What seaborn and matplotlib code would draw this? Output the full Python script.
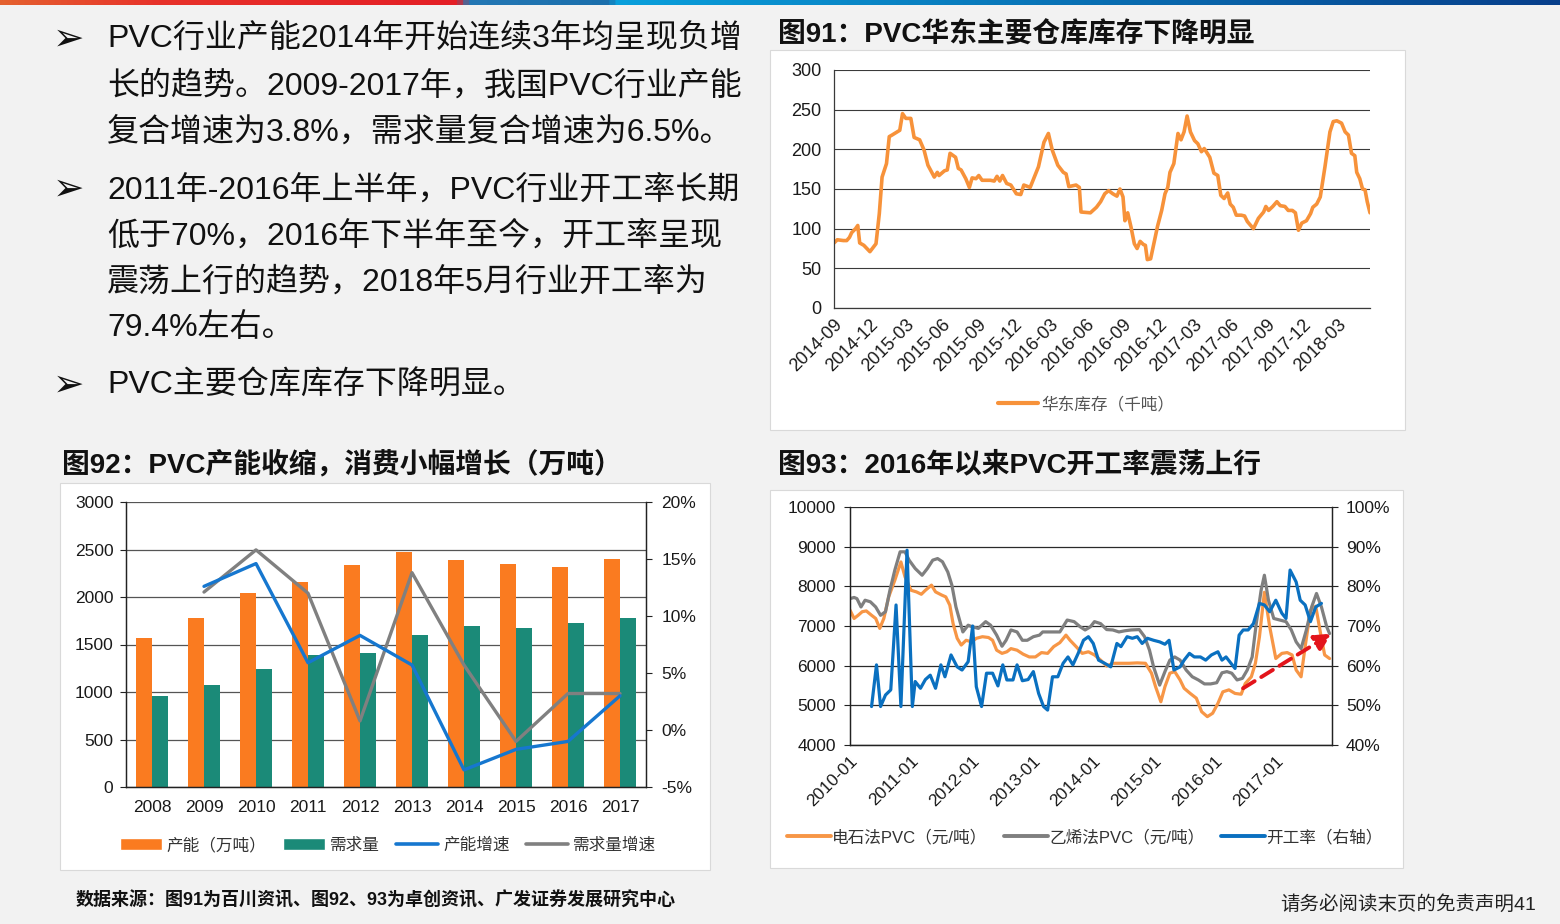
import numpy as np
import pandas as pd
import matplotlib
matplotlib.use("Agg")
import matplotlib.pyplot as plt
import seaborn as sns
from matplotlib.patches import Rectangle, Patch
from matplotlib.lines import Line2D
from matplotlib.colors import LinearSegmentedColormap

# ---------------- data ----------------
# Fig 91: East China PVC warehouse stock (kt); x = weeks since 2014-09-01
weeks91 = [0, 1.2, 3.4, 4.6, 5.6, 6.4, 7.8, 8.6, 9.3, 10.8,
           13, 15.2, 16.4, 17.4, 19, 20, 21, 23.8, 24.8, 26,
           27.8, 29, 31, 32.6, 34, 36.3, 37.4, 38, 40, 41,
           42, 44, 45, 46, 47.7, 49, 50, 51.4, 52.4, 53.6,
           56.6, 58, 59, 60, 61, 62.5, 64, 66, 67.6, 68.7,
           71, 74, 76, 77.6, 79, 81, 83, 84, 85, 87.6,
           88.8, 89.4, 92.8, 95, 96.5, 98, 99.4, 100.9, 102.4, 103.5,
           104.6, 105.3, 106.3, 107.5, 108.7, 109.7, 110.8, 112, 112.7, 113.4,
           114.6, 116, 117.1, 118.6, 119.8, 120.8, 121.6, 123, 124.5, 125.6,
           126.7, 127.8, 129, 130.5, 131.7, 133, 134, 136, 137.5, 138.9,
           140, 141.2, 142.5, 143.4, 144.5, 145.6, 147.4, 148.6, 149.6, 151.8,
           153.6, 155.5, 156.3, 157.3, 158.8, 160.3, 161.5, 163.2, 164.4, 165.9,
           167, 168.1, 169.3, 171, 172.5, 173.3, 174.7, 176, 177.7, 179.5,
           180.7, 182, 183.7, 185, 186.2, 187.3, 188.5, 189.2, 190.3, 191.3,
           192.2, 193, 194]
stock91 = [82, 86, 85, 85, 89, 95, 100, 104, 82, 79,
           71, 81, 119, 165, 182, 216, 218, 224, 245, 239,
           239, 215, 212, 199, 180, 165, 171, 167, 173, 174,
           195, 190, 176, 174, 163, 152, 164, 163, 167, 161,
           161, 160, 166, 160, 167, 157, 155, 144, 143, 155,
           152, 178, 209, 220, 199, 180, 171, 169, 153, 155,
           152, 121, 120, 127, 134, 144, 148, 144, 141, 150,
           140, 110, 120, 102, 81, 75, 84, 80, 79, 61,
           62, 85, 103, 123, 144, 152, 171, 182, 220, 212,
           222, 242, 222, 211, 207, 197, 201, 190, 170, 167,
           142, 138, 145, 131, 127, 117, 117, 116, 109, 100,
           113, 121, 128, 123, 128, 134, 129, 128, 123, 123,
           120, 98, 107, 110, 119, 127, 131, 140, 178, 222,
           235, 236, 233, 222, 218, 195, 192, 171, 163, 150,
           149, 134, 120]
start91 = "2014-09-01"
label91 = "华东库存（千吨）"

# Fig 92: capacity / demand (10kt) and growth rates (%)
years92 = [2008, 2009, 2010, 2011, 2012, 2013, 2014, 2015, 2016, 2017]
capacity92 = [1570, 1775, 2040, 2160, 2340, 2475, 2385, 2345, 2320, 2395]
demand92 = [955, 1075, 1245, 1390, 1410, 1600, 1690, 1675, 1725, 1780]
cap_growth92 = [np.nan, 12.6, 14.6, 5.9, 8.3, 5.7, -3.5, -1.7, -1.0, 3.0]
dem_growth92 = [np.nan, 12.1, 15.8, 12.0, 0.8, 13.8, 5.7, -1.0, 3.2, 3.2]
labels92 = ["产能（万吨）", "需求量", "产能增速", "需求量增速"]

# Fig 93: PVC prices (yuan/t) and operating rate (%); x = years since 2010-01-01
t93_carbide = [0.000, 0.067, 0.134, 0.201, 0.268, 0.355, 0.423, 0.490, 0.557, 0.637,
               0.738, 0.838, 0.905, 1.006, 1.093, 1.174, 1.241, 1.341, 1.408, 1.509,
               1.576, 1.643, 1.697, 1.764, 1.831, 1.911, 2.005, 2.079, 2.180, 2.280,
               2.347, 2.414, 2.502, 2.582, 2.649, 2.750, 2.850, 2.951, 3.052, 3.152,
               3.253, 3.353, 3.454, 3.555, 3.622, 3.722, 3.823, 3.924, 4.024, 4.125,
               4.225, 4.326, 4.460, 4.594, 4.728, 4.863, 4.963, 5.030, 5.117, 5.184,
               5.265, 5.345, 5.433, 5.500, 5.600, 5.701, 5.788, 5.882, 5.969, 6.056,
               6.137, 6.237, 6.338, 6.439, 6.506, 6.606, 6.673, 6.740, 6.821, 6.908,
               7.009, 7.109, 7.197, 7.277, 7.344, 7.425, 7.492, 7.579, 7.666, 7.746,
               7.813, 7.894]
price93_carbide = [7400, 7190, 7270, 7360, 7380, 7270, 7190, 6940, 7190, 7735,
                   8155, 8615, 8240, 7900, 7860, 7800, 7900, 8030, 7860, 7780,
                   7735, 7525, 7060, 6690, 6520, 6640, 6600, 6690, 6730, 6710,
                   6640, 6390, 6310, 6350, 6430, 6390, 6290, 6220, 6220, 6330,
                   6310, 6480, 6580, 6770, 6640, 6480, 6310, 6350, 6270, 6140,
                   5990, 6060, 6060, 6060, 6070, 6060, 5810, 5470, 5090, 5470,
                   5810, 5850, 5640, 5430, 5300, 5180, 4840, 4715, 4800, 5050,
                   5340, 5390, 5300, 5280, 5550, 5720, 6060, 6730, 7850, 6985,
                   6180, 6310, 6330, 6270, 5890, 5720, 6480, 7400, 7500, 6810,
                   6270, 6180]
t93_ethylene = [0.000, 0.067, 0.114, 0.181, 0.248, 0.335, 0.423, 0.503, 0.584, 0.657,
                0.738, 0.825, 0.905, 0.973, 1.073, 1.187, 1.274, 1.362, 1.442, 1.522,
                1.610, 1.677, 1.744, 1.811, 1.858, 1.945, 2.012, 2.113, 2.233, 2.314,
                2.414, 2.502, 2.569, 2.649, 2.750, 2.837, 2.918, 3.018, 3.119, 3.172,
                3.320, 3.454, 3.575, 3.689, 3.789, 3.870, 3.957, 4.024, 4.125, 4.225,
                4.326, 4.427, 4.527, 4.628, 4.762, 4.849, 4.930, 4.997, 5.097, 5.184,
                5.265, 5.345, 5.433, 5.533, 5.634, 5.734, 5.835, 5.936, 6.036, 6.123,
                6.204, 6.284, 6.372, 6.459, 6.539, 6.620, 6.687, 6.767, 6.821, 6.888,
                6.975, 7.076, 7.177, 7.264, 7.344, 7.425, 7.512, 7.599, 7.679, 7.760,
                7.847, 7.894]
price93_ethylene = [7690, 7720, 7690, 7480, 7650, 7610, 7480, 7270, 7360, 7900,
                    8410, 8870, 8870, 8660, 8450, 8280, 8450, 8660, 8700, 8620,
                    8360, 8030, 7480, 7110, 6850, 7020, 6980, 6940, 7110, 7020,
                    6770, 6490, 6640, 6900, 6850, 6640, 6640, 6730, 6770, 6850,
                    6850, 6850, 7150, 7110, 6980, 6900, 6980, 7110, 7060, 6910,
                    6900, 6850, 6880, 6900, 6910, 6730, 6390, 5970, 5510, 5850,
                    6140, 6220, 6140, 5890, 5720, 5640, 5540, 5540, 5570, 5820,
                    5850, 5810, 5640, 5680, 5890, 6220, 7060, 7900, 8280, 7650,
                    7190, 7150, 7110, 6900, 6600, 6430, 6900, 7480, 7820, 7480,
                    6980, 6810]
t93_rate = [0.355, 0.436, 0.503, 0.584, 0.671, 0.758, 0.838, 0.939, 1.026, 1.073,
            1.160, 1.241, 1.321, 1.408, 1.496, 1.563, 1.663, 1.764, 1.844, 1.945,
            2.019, 2.079, 2.166, 2.247, 2.347, 2.435, 2.515, 2.582, 2.683, 2.750,
            2.837, 2.931, 3.018, 3.105, 3.186, 3.253, 3.333, 3.421, 3.508, 3.588,
            3.669, 3.756, 3.843, 3.924, 4.004, 4.091, 4.192, 4.292, 4.393, 4.460,
            4.561, 4.648, 4.728, 4.809, 4.896, 4.997, 5.097, 5.184, 5.252, 5.332,
            5.433, 5.500, 5.587, 5.667, 5.768, 5.855, 5.949, 6.056, 6.123, 6.190,
            6.271, 6.338, 6.405, 6.472, 6.553, 6.640, 6.740, 6.821, 6.908, 7.009,
            7.109, 7.177, 7.244, 7.344, 7.411, 7.492, 7.579, 7.666, 7.760]
rate93 = [49.7, 60.2, 49.7, 52.6, 53.9, 75.3, 49.7, 89.1, 49.7, 56.0,
          54.3, 56.5, 57.6, 54.3, 60.2, 57.2, 62.7, 59.7, 58.9, 61.0,
          70.0, 54.7, 49.7, 58.1, 58.1, 54.9, 60.2, 56.4, 56.4, 60.2,
          56.2, 56.5, 58.5, 53.0, 49.7, 48.8, 57.2, 57.2, 60.6, 62.2,
          60.2, 63.1, 66.4, 67.3, 65.6, 61.4, 60.6, 59.7, 65.6, 64.8,
          67.3, 66.9, 67.3, 65.6, 66.9, 66.4, 66.0, 65.4, 66.4, 58.9,
          59.7, 61.4, 63.1, 62.2, 62.2, 61.4, 62.7, 63.5, 61.4, 62.2,
          60.6, 59.3, 67.7, 69.0, 69.0, 70.6, 75.7, 75.3, 73.6, 76.5,
          73.2, 71.9, 84.1, 81.1, 76.5, 75.3, 71.1, 74.8, 75.7]
start93 = "2010-01-01"
end93_years = 7.934
arrow93_t = (6.47, 7.93)
arrow93_v = (5430, 6810)
labels93 = ["电石法PVC（元/吨）", "乙烯法PVC（元/吨）", "开工率（右轴）"]

# text
titles = ["图91：PVC华东主要仓库库存下降明显",
          "图92：PVC产能收缩，消费小幅增长（万吨）",
          "图93：2016年以来PVC开工率震荡上行"]
body_lines = ["PVC行业产能2014年开始连续3年均呈现负增",
              "长的趋势。2009-2017年，我国PVC行业产能",
              "复合增速为3.8%，需求量复合增速为6.5%。",
              "2011年-2016年上半年，PVC行业开工率长期",
              "低于70%，2016年下半年至今，开工率呈现",
              "震荡上行的趋势，2018年5月行业开工率为",
              "79.4%左右。",
              "PVC主要仓库库存下降明显。"]
source_text = "数据来源：图91为百川资讯、图92、93为卓创资讯、广发证券发展研究中心"
disclaimer = "请务必阅读末页的免责声明41"

# ---------------- style ----------------
sns.set_style("white")
FAM = ["Liberation Sans", "Noto Sans CJK SC", "DejaVu Sans"]
plt.rcParams["font.family"] = FAM
plt.rcParams["axes.unicode_minus"] = False

W, H = 1560, 924
fig = plt.figure(figsize=(W / 100, H / 100), dpi=100, facecolor="#f2f2f2")


def frac(x0, y0, x1, y1):
    return [x0 / W, 1 - y1 / H, (x1 - x0) / W, (y1 - y0) / H]


def panel(x0, y0, x1, y1):
    fig.add_artist(Rectangle((x0 / W, 1 - y1 / H), (x1 - x0) / W, (y1 - y0) / H,
                             transform=fig.transFigure, facecolor="white",
                             edgecolor="#d9d9d9", lw=0.8, zorder=-5))


# top colour bar
cmap_bar = LinearSegmentedColormap.from_list(
    "bar", [(0, "#e4612f"), (0.1, "#e8322b"), (0.292, "#e41f26"), (0.300, "#2478b5"),
            (0.39, "#1b6fac"), (0.395, "#0aa0dc"), (1.0, "#073f8b")])
axbar = fig.add_axes(frac(0, 0, W, 5))
axbar.imshow(np.linspace(0, 1, 1024)[None, :], aspect="auto", cmap=cmap_bar)
axbar.axis("off")

panel(770, 50, 1405, 430)
panel(60, 483, 710, 870)
panel(770, 490, 1403, 868)

TICK_C = "#1a1a1a"

# ---------------- Fig 91 ----------------
c91 = "#F7923A"
start = pd.Timestamp(start91)
dates91 = start + pd.to_timedelta(np.array(weeks91) * 7, unit="D")
ax91 = fig.add_axes(frac(834, 70, 1370, 308))
ax91.set_facecolor("none")
sns.lineplot(x=dates91, y=stock91, ax=ax91, color=c91, lw=2.6, errorbar=None)
ax91.set_xlim(start, start + pd.Timedelta(weeks=194))
ax91.set_ylim(0, 300)
ax91.set_yticks(range(0, 301, 50))
ax91.yaxis.grid(True, color="#3a3a3a", lw=0.8)
ax91.set_axisbelow(True)
q_ticks = pd.date_range("2014-09-01", "2018-03-01", freq="3MS")
ax91.set_xticks(q_ticks)
ax91.set_xticklabels([d.strftime("%Y-%m") for d in q_ticks], rotation=45,
                     ha="right", rotation_mode="anchor")
for s in ["top", "right"]:
    ax91.spines[s].set_visible(False)
for s in ["left", "bottom"]:
    ax91.spines[s].set_color("#3a3a3a")
    ax91.spines[s].set_linewidth(0.9)
ax91.tick_params(axis="both", direction="out", length=4, width=0.8, color="#3a3a3a",
                 labelsize=13, labelcolor=TICK_C, pad=5)
ax91.tick_params(axis="x", pad=2)
ax91.set_xlabel("")
ax91.set_ylabel("")
fig.legend(handles=[Line2D([], [], color=c91, lw=3)], labels=[label91],
           loc="center", bbox_to_anchor=(1086 / W, 1 - 404 / H), frameon=False,
           fontsize=12, handlelength=2.4, handletextpad=0.2, labelcolor="#555555")

# ---------------- Fig 92 ----------------
c_or, c_teal, c_blue, c_gray = "#FA7B20", "#1B8A78", "#1677CF", "#808080"
ax92 = fig.add_axes(frac(126, 502, 646, 787))
ax92.set_facecolor("none")
n92 = len(years92)
df92 = pd.DataFrame({"year": years92 * 2,
                     "value": capacity92 + demand92,
                     "series": [labels92[0]] * n92 + [labels92[1]] * n92})
sns.barplot(data=df92, x="year", y="value", hue="series",
            hue_order=labels92[:2], palette=[c_or, c_teal], native_scale=True,
            width=0.6, saturation=1, linewidth=0, errorbar=None, legend=False, ax=ax92)
ax92.set_xlim(years92[0] - 0.5, years92[-1] + 0.5)
ax92.set_ylim(0, 3000)
ax92.set_yticks(range(0, 3001, 500))
ax92.set_xticks(years92)
ax92.set_xticklabels([str(y) for y in years92])
ax92.yaxis.grid(True, color="#555555", lw=0.9)
ax92.set_axisbelow(True)
ax92.spines["top"].set_visible(False)
for s in ["left", "bottom", "right"]:
    ax92.spines[s].set_color("#222222")
    ax92.spines[s].set_linewidth(0.9)
ax92.tick_params(axis="y", direction="out", length=4, width=0.8, color="#222222",
                 labelsize=12.5, labelcolor=TICK_C, pad=5)
ax92.tick_params(axis="x", length=0, labelsize=12.5, labelcolor=TICK_C, pad=9)
ax92.set_xlabel("")
ax92.set_ylabel("")

ax92r = ax92.twinx()
sns.lineplot(x=years92, y=dem_growth92, ax=ax92r, color=c_gray, lw=2.4, errorbar=None)
sns.lineplot(x=years92, y=cap_growth92, ax=ax92r, color=c_blue, lw=2.4, errorbar=None)
ax92r.set_ylim(-5, 20)
ax92r.set_yticks(range(-5, 21, 5))
ax92r.set_yticklabels([f"{v}%" for v in range(-5, 21, 5)])
ax92r.grid(False)
ax92r.spines["top"].set_visible(False)
for s in ["left", "bottom", "right"]:
    ax92r.spines[s].set_color("#222222")
    ax92r.spines[s].set_linewidth(0.9)
ax92r.tick_params(axis="y", direction="out", length=4, width=0.8, color="#222222",
                  labelsize=12.5, labelcolor=TICK_C, pad=7)
ax92r.set_ylabel("")
ax92.set_xlim(years92[0] - 0.5, years92[-1] + 0.5)

h92 = [Patch(facecolor=c_or), Patch(facecolor=c_teal),
       Line2D([], [], color=c_blue, lw=2.6), Line2D([], [], color=c_gray, lw=2.6)]
fig.legend(handles=h92, labels=labels92, loc="center",
           bbox_to_anchor=(388 / W, 1 - 845 / H), ncol=4, frameon=False,
           fontsize=12, handlelength=2.5, handleheight=0.7, columnspacing=1.0,
           handletextpad=0.3, labelcolor="#333333")

# ---------------- Fig 93 ----------------
c93_or, c93_gray, c93_blue = "#F79646", "#7F7F7F", "#0A70C0"
start = pd.Timestamp(start93)
yr = pd.Timedelta(days=365.25)
d_car = start + pd.to_timedelta(np.array(t93_carbide) * 365.25, unit="D")
d_eth = start + pd.to_timedelta(np.array(t93_ethylene) * 365.25, unit="D")
d_rate = start + pd.to_timedelta(np.array(t93_rate) * 365.25, unit="D")

ax93 = fig.add_axes(frac(850, 507, 1332, 745))
ax93.set_facecolor("none")
sns.lineplot(x=d_car, y=price93_carbide, ax=ax93, color=c93_or, lw=2.3, errorbar=None)
sns.lineplot(x=d_eth, y=price93_ethylene, ax=ax93, color=c93_gray, lw=2.3, errorbar=None)
ax93.set_ylim(4000, 10000)
ax93.set_yticks(range(4000, 10001, 1000))
ax93.yaxis.grid(True, color="#2a2a2a", lw=0.9)
ax93.set_axisbelow(True)
ax93.spines["top"].set_visible(False)
for s in ["left", "bottom", "right"]:
    ax93.spines[s].set_color("#222222")
    ax93.spines[s].set_linewidth(0.9)
ax93.tick_params(axis="both", direction="out", length=4, width=0.8, color="#222222",
                 labelsize=12.5, labelcolor=TICK_C, pad=6)
ax93.tick_params(axis="x", pad=2)
ax93.set_xlabel("")
ax93.set_ylabel("")

ax93r = ax93.twinx()
sns.lineplot(x=d_rate, y=rate93, ax=ax93r, color=c93_blue, lw=2.3, errorbar=None)
ax93r.set_ylim(40, 100)
ax93r.set_yticks(range(40, 101, 10))
ax93r.set_yticklabels([f"{v}%" for v in range(40, 101, 10)])
ax93r.grid(False)
ax93r.spines["top"].set_visible(False)
for s in ["left", "bottom", "right"]:
    ax93r.spines[s].set_color("#222222")
    ax93r.spines[s].set_linewidth(0.9)
ax93r.tick_params(axis="y", direction="out", length=4, width=0.8, color="#222222",
                  labelsize=12.5, labelcolor=TICK_C, pad=6)
ax93r.set_ylabel("")

y_ticks93 = pd.date_range("2010-01-01", "2017-01-01", freq="YS")
ax93.set_xlim(start, start + end93_years * yr)
ax93.set_xticks(y_ticks93)
ax93.set_xticklabels([d.strftime("%Y-%m") for d in y_ticks93], rotation=45,
                     ha="right", rotation_mode="anchor")

a_start = (start + arrow93_t[0] * yr, arrow93_v[0])
a_end = (start + arrow93_t[1] * yr, arrow93_v[1])
ax93.annotate("", xy=a_end, xytext=a_start,
              arrowprops=dict(arrowstyle="-|>,head_length=1.0,head_width=0.5",
                              color="#E3141B", lw=2.8, linestyle=(0, (3.5, 2)),
                              shrinkA=0, shrinkB=0), zorder=6)

h93 = [Line2D([], [], color=c, lw=2.8) for c in (c93_or, c93_gray, c93_blue)]
fig.legend(handles=h93, labels=labels93, loc="center",
           bbox_to_anchor=(1085 / W, 1 - 837 / H), ncol=3, frameon=False,
           fontsize=12, handlelength=2.6, columnspacing=1.0, handletextpad=0.1,
           labelcolor="#333333")

# ---------------- text ----------------
title_pos = [(778, 35), (62, 465), (778, 465)]
for (tx, ty), t in zip(title_pos, titles):
    fig.text(tx / W, 1 - ty / H, t, fontsize=20, fontweight="bold",
             va="center", ha="left", color="#111111", family=FAM)

line_y = [40, 86, 132, 190, 236, 282, 328, 386]
for ly, t in zip(line_y, body_lines):
    fig.text(107 / W, 1 - ly / H, t, fontsize=23, va="center", ha="left",
             color="#111111", family=FAM)
for by in (40, 190, 386):
    fig.text(53 / W, 1 - by / H, "➢", fontsize=27, va="center", ha="left",
             color="#111111", family=["DejaVu Sans"])

fig.text(76 / W, 1 - 900 / H, source_text, fontsize=13, fontweight="bold",
         va="center", ha="left", color="#111111", family=FAM)
fig.text(1536 / W, 1 - 904 / H, disclaimer, fontsize=14, va="center", ha="right",
         color="#222222", family=FAM)

fig.savefig("out.png", dpi=100, facecolor=fig.get_facecolor())
